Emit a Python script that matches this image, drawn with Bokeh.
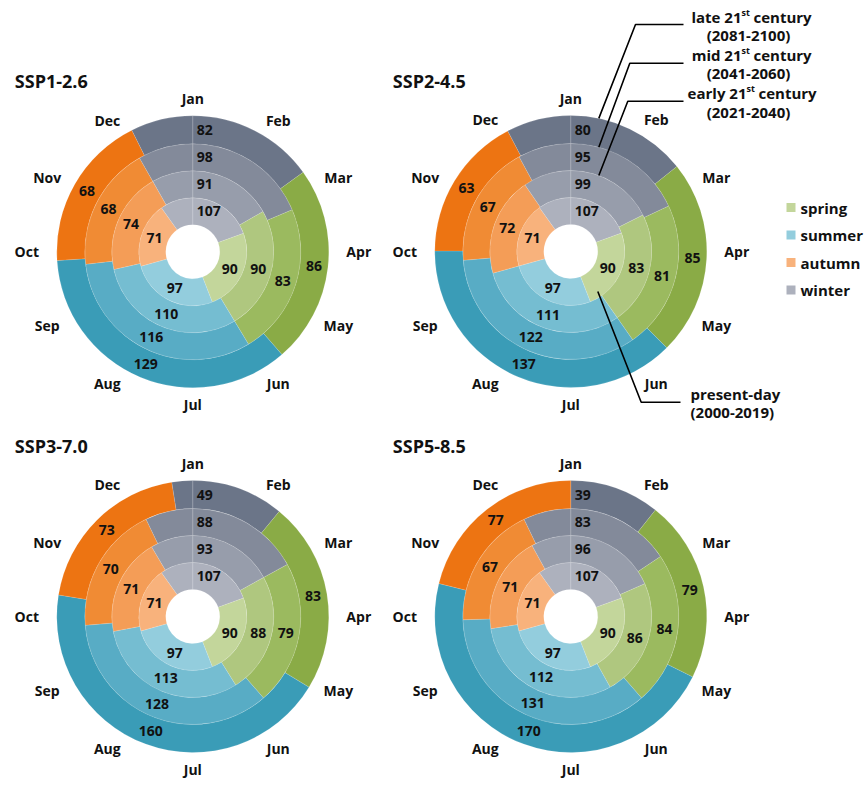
import math
from bokeh.plotting import figure
from bokeh.models import Range1d, ColumnDataSource
from bokeh.embed import file_html
from bokeh.resources import INLINE
from bokeh.core.properties import value

# ---------------- data ----------------
scenarios = ["SSP1-2.6", "SSP2-4.5", "SSP3-7.0", "SSP5-8.5"]
periods = ["present-day", "early 21st century", "mid 21st century", "late 21st century"]
period_years = ["(2000-2019)", "(2021-2040)", "(2041-2060)", "(2081-2100)"]
seasons = ["spring", "summer", "autumn", "winter"]
months = ["Jan", "Feb", "Mar", "Apr", "May", "Jun",
          "Jul", "Aug", "Sep", "Oct", "Nov", "Dec"]

# season lengths (days); order of each list: present, early, mid, late
winter_days = {"SSP1-2.6": [107, 91, 98, 82], "SSP2-4.5": [107, 99, 95, 80],
               "SSP3-7.0": [107, 93, 88, 49], "SSP5-8.5": [107, 96, 83, 39]}
spring_days = {"SSP1-2.6": [90, 90, 83, 86], "SSP2-4.5": [90, 83, 81, 85],
               "SSP3-7.0": [90, 88, 79, 83], "SSP5-8.5": [90, 86, 84, 79]}
summer_days = {"SSP1-2.6": [97, 110, 116, 129], "SSP2-4.5": [97, 111, 122, 137],
               "SSP3-7.0": [97, 113, 128, 160], "SSP5-8.5": [97, 112, 131, 170]}
autumn_days = {"SSP1-2.6": [71, 74, 68, 68], "SSP2-4.5": [71, 72, 67, 63],
               "SSP3-7.0": [71, 71, 70, 73], "SSP5-8.5": [71, 71, 67, 77]}
# day of year on which spring begins
spring_onset = {"SSP1-2.6": [71, 61, 68, 55], "SSP2-4.5": [71, 64, 66, 52],
                "SSP3-7.0": [71, 62, 62, 40], "SSP5-8.5": [71, 67, 57, 39]}

# ---------------- style ----------------
FONT = "Open Sans"
colors = {
    "spring": ["#c3d69b", "#afc77f", "#9bba5f", "#8aab46"],
    "summer": ["#93cddd", "#75bdd1", "#58acc5", "#3a9cb7"],
    "autumn": ["#f8b27c", "#f49d57", "#f08b34", "#ed7412"],
    "winter": ["#adb1bd", "#979dab", "#838a9a", "#6b7588"],
}
centers = {"SSP1-2.6": (192.3, 251.3), "SSP2-4.5": (570.3, 251.0),
           "SSP3-7.0": (192.3, 616.0), "SSP5-8.5": (570.3, 616.0)}
radii = [27, 54, 81, 108, 136]
YEAR = 365.0

W, H = 866, 785
p = figure(width=W, height=H, x_range=Range1d(0, W), y_range=Range1d(-H, 0),
           output_backend="svg", toolbar_location=None,
           x_axis_location=None, y_axis_location=None, min_border=0)
p.grid.visible = False
p.outline_line_color = None
p.background_fill_color = "white"
p.border_fill_color = "white"


def ang(day):
    """clockwise-from-top (days) -> bokeh radians (ccw from +x)"""
    return math.radians(90.0 - day / YEAR * 360.0)


def pos(cx, cy, r, theta_deg):
    t = math.radians(theta_deg)
    return cx + r * math.sin(t), -(cy - r * math.cos(t))


wd = dict(x=[], y=[], ir=[], orr=[], sa=[], ea=[], color=[])
lab = dict(x=[], y=[], text=[])
wlab = dict(x=[], y=[], text=[])
mlab = dict(x=[], y=[], text=[])
tit = dict(x=[], y=[], text=[])

for sc in scenarios:
    cx, cy = centers[sc]
    for k in range(4):
        S = spring_onset[sc][k]
        vals = {"spring": spring_days[sc][k], "summer": summer_days[sc][k],
                "autumn": autumn_days[sc][k]}
        ir, orr = radii[k], radii[k + 1]
        rmid = (ir + orr) / 2.0
        segs = [("winter", 0, S)]
        d = S
        for s in ["spring", "summer", "autumn"]:
            segs.append((s, d, d + vals[s]))
            mid = (d + vals[s] / 2.0) / YEAR * 360.0
            x, y = pos(cx, cy, rmid, mid)
            lab["x"].append(x); lab["y"].append(y); lab["text"].append(str(vals[s]))
            d += vals[s]
        if d < YEAR:
            segs.append(("winter", d, YEAR))
        for s, a, b in segs:
            if b - a <= 0:
                continue
            wd["x"].append(cx); wd["y"].append(-cy)
            wd["ir"].append(ir); wd["orr"].append(orr)
            wd["sa"].append(ang(a)); wd["ea"].append(ang(b))
            wd["color"].append(colors[s][k])
        wlab["x"].append(cx + 4); wlab["y"].append(-(cy - rmid))
        wlab["text"].append(str(winter_days[sc][k]))
    for i, m in enumerate(months):
        phi = i * 30 + 3.5 * math.sin(math.radians(2 * i * 30))
        r = 153 + 13 * math.sin(math.radians(phi)) ** 2
        x, y = pos(cx, cy, r, phi)
        mlab["x"].append(x); mlab["y"].append(y); mlab["text"].append(m)
    tit["x"].append(cx - 178); tit["y"].append(-(cy - 171)); tit["text"].append(sc)

p.annular_wedge(x="x", y="y", inner_radius="ir", outer_radius="orr",
                start_angle="sa", end_angle="ea", direction="clock",
                fill_color="color", line_color="white", line_alpha=0.13, line_width=1,
                source=ColumnDataSource(wd))

common = dict(text_font=value(FONT), text_font_style="bold", text_baseline="middle")
p.text(x="x", y="y", text="text", source=ColumnDataSource(lab), text_align="center",
       text_font_size="14px", text_color="#111111", **common)
p.text(x="x", y="y", text="text", source=ColumnDataSource(wlab), text_align="left",
       text_font_size="14px", text_color="#111111", **common)
p.text(x="x", y="y", text="text", source=ColumnDataSource(mlab), text_align="center",
       text_font_size="14px", text_color="#111111", **common)
p.text(x="x", y="y", text="text", source=ColumnDataSource(tit), text_align="left",
       text_font_size="18px", text_color="#111111", **common)

# ---------------- legend ----------------
leg_y = [207 + i * 27.5 for i in range(4)]
p.rect(x=[790.5] * 4, y=[-v for v in leg_y], width=9, height=9,
       fill_color=[colors[s][0] for s in seasons], line_color=None)
p.text(x=[800] * 4, y=[-v for v in leg_y], text=seasons, text_align="left",
       text_font_size="15px", text_color="#111111", **common)

# ---------------- period annotations (SSP2-4.5 panel) ----------------
cx2, cy2 = centers["SSP2-4.5"]
ann_y = [None, 92.7, 54.0, 16.0]           # first line centres for early, mid, late
ann_sx = [None, 746, 741, 741]             # start of superscript
ann_hx = [None, 627.3, 629.3, 635.0]       # elbow x
ann_hy = [None, 100.7, 62.7, 24.0]         # elbow / horizontal y
for k in [1, 2, 3]:
    name = periods[k]
    pre = name.split("st ")[0]              # e.g. "late 21"
    suf = name.split("st ")[1]              # "century"
    y0 = ann_y[k]
    sx = ann_sx[k]
    p.text(x=[sx], y=[-y0], text=[pre], text_align="right", text_font_size="15px",
           text_color="#111111", **common)
    p.text(x=[sx], y=[-(y0 - 4.5)], text=["st"], text_align="left", text_font_size="9px",
           text_color="#111111", **common)
    p.text(x=[sx + 12], y=[-y0], text=[suf], text_align="left", text_font_size="15px",
           text_color="#111111", **common)
    p.text(x=[748], y=[-(y0 + 18.3)], text=[period_years[k]], text_align="center",
           text_font_size="15px", text_color="#111111", **common)
    R = radii[k + 1]
    ex, ey = cx2 + 28, cy2 - math.sqrt(R * R - 28 * 28)
    p.line(x=[683, ann_hx[k], ex], y=[-ann_hy[k], -ann_hy[k], -ey],
           line_color="black", line_width=1.6)

# present-day
p.text(x=[690], y=[-393.3], text=[periods[0]], text_align="left", text_font_size="15px",
       text_color="#111111", **common)
p.text(x=[690], y=[-411.7], text=[period_years[0]], text_align="left", text_font_size="15px",
       text_color="#111111", **common)
p.line(x=[cx2 + 27, 640.7, 680], y=[-(cy2 + 40), -401.7, -401.7],
       line_color="black", line_width=1.6)

open("out.html", "w").write(file_html(p, INLINE))
